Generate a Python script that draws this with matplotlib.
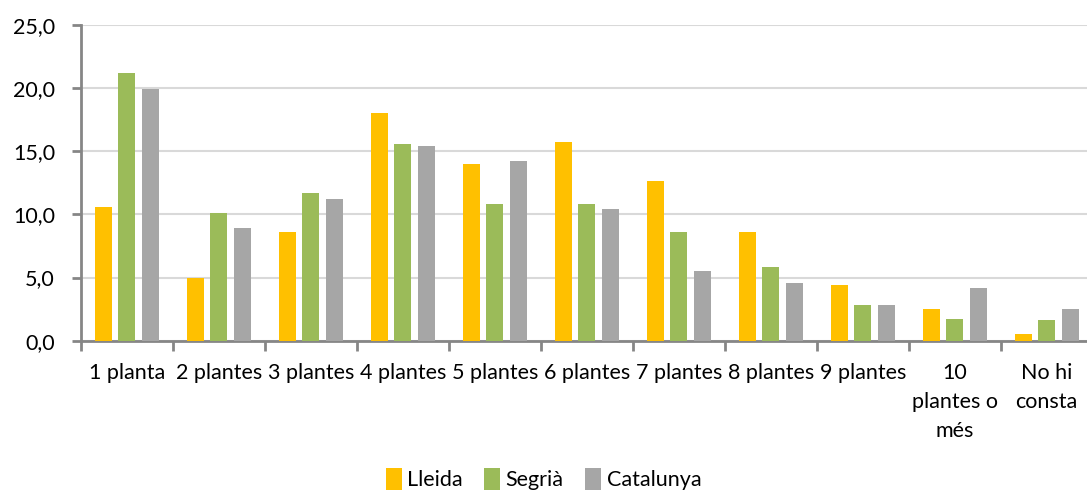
import numpy as np
import matplotlib
matplotlib.use("Agg")
import matplotlib.pyplot as plt

plt.rcParams['font.family'] = ['Lato', 'DejaVu Sans']

# Percentatge d'edificis segons el nombre de plantes
categories = ['1 planta', '2 plantes', '3 plantes', '4 plantes', '5 plantes',
              '6 plantes', '7 plantes', '8 plantes', '9 plantes',
              '10\nplantes o\nmés', 'No hi\nconsta']
lleida = [10.6, 5.0, 8.6, 18.0, 14.0, 15.7, 12.6, 8.6, 4.4, 2.5, 0.5]
segria = [21.2, 10.1, 11.7, 15.6, 10.8, 10.8, 8.6, 5.8, 2.8, 1.7, 1.6]
catalunya = [19.9, 8.9, 11.2, 15.4, 14.2, 10.4, 5.5, 4.6, 2.8, 4.2, 2.5]

series = [('Lleida', lleida, '#FFC000'),
          ('Segrià', segria, '#9BBB59'),
          ('Catalunya', catalunya, '#A6A6A6')]

fs = 15.5

fig = plt.figure(figsize=(10.87, 4.91), dpi=100)
ax = fig.add_axes([80.7 / 1087, 1 - 340.7 / 491, 1012 / 1087, 316 / 491])

x = np.arange(len(categories))
width = 0.185
offset = 0.255
for i, (name, vals, color) in enumerate(series):
    ax.bar(x + (i - 1) * offset, vals, width, color=color, label=name, zorder=3)

ax.set_xlim(-0.5, len(categories) - 0.5)
ax.set_ylim(0, 25)
ax.set_yticks(np.arange(0, 26, 5))
ax.set_yticklabels([f'{v:.1f}'.replace('.', ',') for v in np.arange(0, 26, 5)])
ax.yaxis.grid(True, color='#D9D9D9', linewidth=1.5, zorder=0)

# separadors entre categories
ax.set_xticks(np.arange(-0.5, len(categories), 1))
ax.set_xticklabels([])
ax.set_xticks(x, minor=True)
ax.set_xticklabels(categories, minor=True, fontsize=fs, linespacing=1.55,
                   va='top', color='#000000')
ax.tick_params(axis='x', which='minor', length=0, pad=16)
ax.tick_params(axis='x', which='major', length=7, width=2, color='#868686')
ax.tick_params(axis='y', length=6.5, width=2, color='#868686', labelsize=fs, pad=12)

for side in ['top', 'right']:
    ax.spines[side].set_visible(False)
for side in ['left', 'bottom']:
    ax.spines[side].set_color('#868686')
    ax.spines[side].set_linewidth(2)

fig.legend(loc='center', bbox_to_anchor=(0.5, 1 - 479 / 491), ncol=3,
           frameon=False, fontsize=fs, handlelength=0.75, handleheight=1.2,
           handletextpad=0.25, columnspacing=1.0)

fig.savefig('out.png', dpi=100)
